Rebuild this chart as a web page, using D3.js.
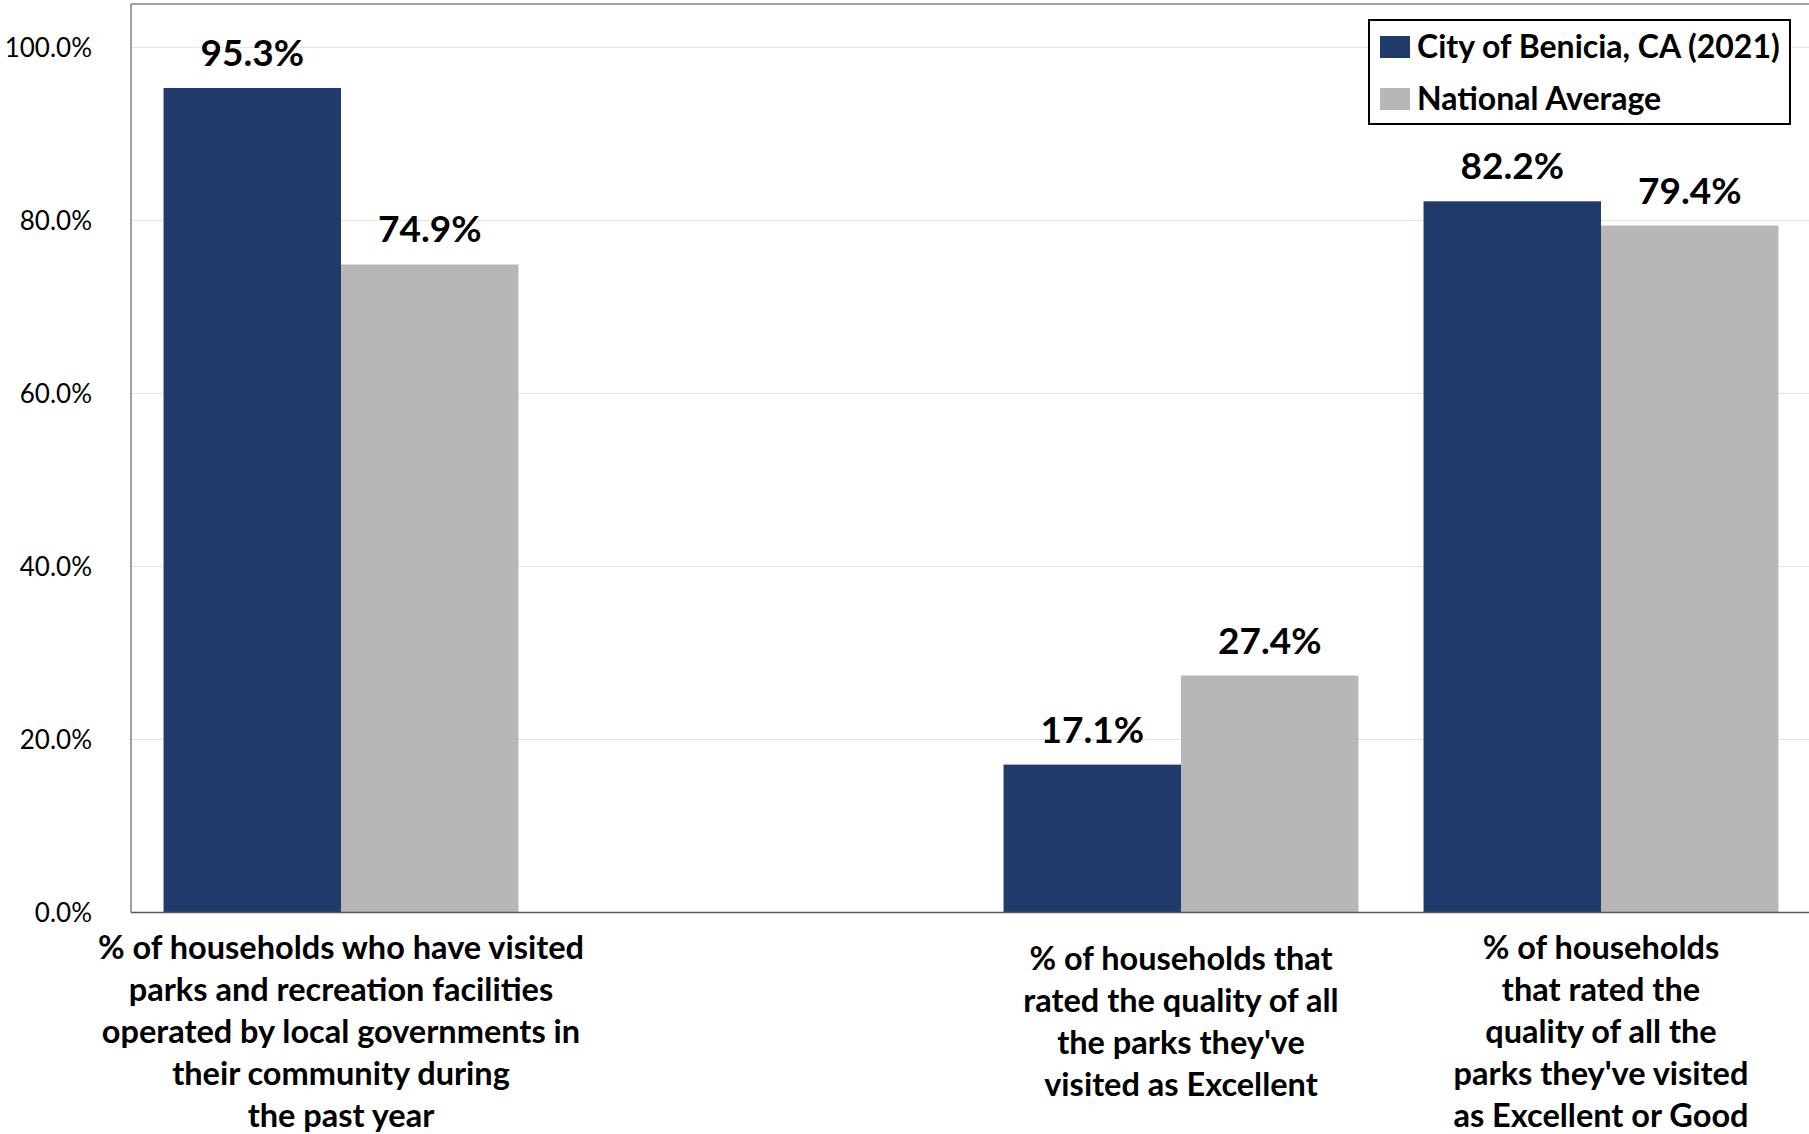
<!DOCTYPE html>
<html>
<head>
<meta charset="utf-8">
<script src="https://cdn.jsdelivr.net/npm/d3@7"></script>
<style>
  html, body { margin: 0; padding: 0; background: #ffffff; }
  svg { display: block; }
  text { font-family: Lato, "Open Sans", sans-serif; fill: #000; }
</style>
</head>
<body>
<div id="chart"></div>
<script>
// ---- data ----
const categories = [
  ["% of households who have visited", "parks and recreation facilities", "operated by local governments in", "their community during", "the past year"],
  [],
  ["% of households that", "rated the quality of all", "the parks they've", "visited as Excellent"],
  ["% of households", "that rated the", "quality of all the", "parks they've visited", "as Excellent or Good"]
];
const seriesNames = ["City of Benicia, CA (2021)", "National Average"];
const beniciaValues = [95.3, null, 17.1, 82.2];
const nationalValues = [74.9, null, 27.4, 79.4];
const yTicks = [0, 20, 40, 60, 80, 100];

// ---- layout ----
const W = 1809, H = 1134;
const plotLeft = 131, plotRight = 1811, plotTop = 4;
const colors = ["#1f3a6b", "#b7b7b7"];

const svg = d3.select("#chart").append("svg").attr("width", W).attr("height", H);

const x0 = d3.scaleBand().domain(d3.range(categories.length))
  .range([plotLeft, plotRight]).paddingInner(0.155).paddingOuter(0.0775);
const x1 = d3.scaleBand().domain([0, 1]).range([0, x0.bandwidth()]);
const y = d3.scaleLinear().domain([0, 100]).range([912.6, 47.3]);

// gridlines
svg.append("g").selectAll("line").data(yTicks.filter(d => d > 0)).join("line")
  .attr("x1", plotLeft).attr("x2", W)
  .attr("y1", d => y(d)).attr("y2", d => y(d))
  .attr("stroke", "#e3e3e3").attr("stroke-width", 1);

// y axis labels
const yAxis = d3.axisLeft(y).tickValues(yTicks).tickSize(0).tickPadding(0)
  .tickFormat(d => d3.format(".1f")(d) + "%");
const ya = svg.append("g").attr("transform", "translate(92,1)").call(yAxis);
ya.select(".domain").remove();
ya.selectAll("text").attr("font-family", "Lato, sans-serif").attr("font-size", 26).attr("fill", "#000");

// bars
const series = [beniciaValues, nationalValues];
const groups = svg.append("g").selectAll("g").data(categories.map((c, i) => i)).join("g")
  .attr("transform", i => `translate(${x0(i)},0)`);
groups.selectAll("rect")
  .data(i => series.map((s, k) => ({ k, v: s[i] })).filter(d => d.v != null))
  .join("rect")
  .attr("x", d => x1(d.k)).attr("width", x1.bandwidth())
  .attr("y", d => y(d.v)).attr("height", d => y(0) - y(d.v))
  .attr("fill", d => colors[d.k]);
groups.selectAll("text.val")
  .data(i => series.map((s, k) => ({ k, v: s[i] })).filter(d => d.v != null))
  .join("text").attr("class", "val")
  .attr("x", d => x1(d.k) + x1.bandwidth() / 2)
  .attr("y", d => y(d.v) - 22)
  .attr("text-anchor", "middle")
  .attr("font-size", 37).attr("font-weight", 700)
  .text(d => d.v.toFixed(1) + "%");

// frame
svg.append("line").attr("x1", plotLeft).attr("x2", plotLeft).attr("y1", plotTop).attr("y2", y(0))
  .attr("stroke", "#808080").attr("stroke-width", 1.5);
svg.append("line").attr("x1", plotLeft).attr("x2", W).attr("y1", plotTop).attr("y2", plotTop)
  .attr("stroke", "#808080").attr("stroke-width", 1.5);
svg.append("line").attr("x1", plotLeft).attr("x2", W).attr("y1", y(0)).attr("y2", y(0))
  .attr("stroke", "#595959").attr("stroke-width", 1.5);

// category labels
const catG = svg.append("g").selectAll("text").data(categories.map((c, i) => i)).join("text")
  .attr("text-anchor", "middle")
  .attr("font-size", 32.5).attr("font-weight", 700);
catG.selectAll("tspan").data(i => categories[i].map(l => ({ i, l, n: categories[i].length })))
  .join("tspan")
  .attr("x", d => x0(d.i) + x0.bandwidth() / 2)
  .attr("y", (d, j) => 959 + (5 - d.n) * 11 + j * 42)
  .text(d => d.l);

// legend
const lg = svg.append("g");
lg.append("rect").attr("x", 1369).attr("y", 20).attr("width", 421).attr("height", 104)
  .attr("fill", "#fff").attr("stroke", "#000").attr("stroke-width", 2);
seriesNames.forEach((n, k) => {
  const cy = 47 + k * 52;
  lg.append("rect").attr("x", 1380).attr("y", cy - 11).attr("width", 30).attr("height", 22).attr("fill", colors[k]);
  lg.append("text").attr("x", 1417).attr("y", cy + 11).attr("font-size", 32).attr("font-weight", 700).text(n);
});
</script>
</body>
</html>
